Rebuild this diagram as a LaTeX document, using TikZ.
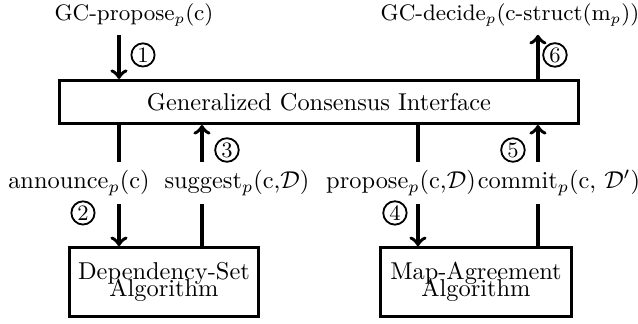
\documentclass[tikz,border=0pt]{standalone}
\usepackage{amsmath}
\usepackage{amssymb}
\usepackage{tikz}
\tikzset{every edge/.style={draw,->,line width=1.5pt}}
\tikzstyle{iface}=[rectangle,draw=black,very thick,inner sep=0pt,minimum width=7.48cm,minimum height=0.62cm]
\tikzstyle{algo}=[rectangle,draw=black,very thick,align=center,inner sep=0pt,minimum width=2.72cm,minimum height=0.99cm]
\tikzstyle{circnum}=[circle,draw=black,line width=0.75pt,inner sep=0.7pt,font=\small]
\tikzstyle{gccall}=[font=\fontsize{9.2}{11}\selectfont]

\begin{document}
\begin{tikzpicture}
	\useasboundingbox (0,0) rectangle (9.195,4.669);
	% modules
	\node at (4.597,3.199) [iface] (gci) {Generalized Consensus Interface};
	\node at (2.363,0.605) [algo] (dsa) {Dependency-Set\\[-5.2pt]Algorithm};
	\node at (6.860,0.605) [algo,minimum width=2.75cm] (maa) {Map-Agreement\\[-5.2pt]Algorithm};
	
	% calls
	\node at (1.931,4.453) [gccall] (gcp) {GC-propose$_p$(c)};
	\node at (7.350,4.453) [gccall] (gcd) {GC-decide$_p$(c-struct(m$_p$))};
	\node at (1.138,2.032) (ann) {announce$_p$(c)};
	\node at (3.415,2.032) (sug) {suggest$_p$(c,$\mathcal{D}$)};
	\node at (5.779,2.032) (pro) {propose$_p$(c,$\mathcal{D}$)};
	\node at (8.056,2.032) (com) {commit$_p$(c, $\mathcal{D}'$)};
	
	% order of the steps
	\node at (2.061,3.877) [circnum] (s1) {1};
	\node at (1.196,1.600) [circnum] (s2) {2};
	\node at (3.271,2.507) [circnum] (s3) {3};
	\node at (5.692,1.600) [circnum] (s4) {4};
	\node at (7.393,2.507) [circnum] (s5) {5};
	\node at (7.998,3.877) [circnum] (s6) {6};
	
	\coordinate (l1) at (1.715,0);
	\coordinate (l3) at (2.911,0);
	\coordinate (l4) at (6.024,0);
	\coordinate (l6) at (7.753,0);
	
	\draw (gcp.south -| l1) edge (gci.north -| l1);
	\draw (gci.north -| l6) edge (gcd.south -| l6);
	\draw [line width=1.5pt] (gci.south -| l1) -- (ann.north -| l1);
	\draw (ann.south -| l1) edge (dsa.north -| l1);
	\draw [line width=1.5pt] (dsa.north -| l3) -- (sug.south -| l3);
	\draw (sug.north -| l3) edge (gci.south -| l3);
	\draw [line width=1.5pt] (gci.south -| l4) -- (pro.north -| l4);
	\draw (pro.south -| l4) edge (maa.north -| l4);
	\draw [line width=1.5pt] (maa.north -| l6) -- (com.south -| l6);
	\draw (com.north -| l6) edge (gci.south -| l6);
\end{tikzpicture}
\end{document}
